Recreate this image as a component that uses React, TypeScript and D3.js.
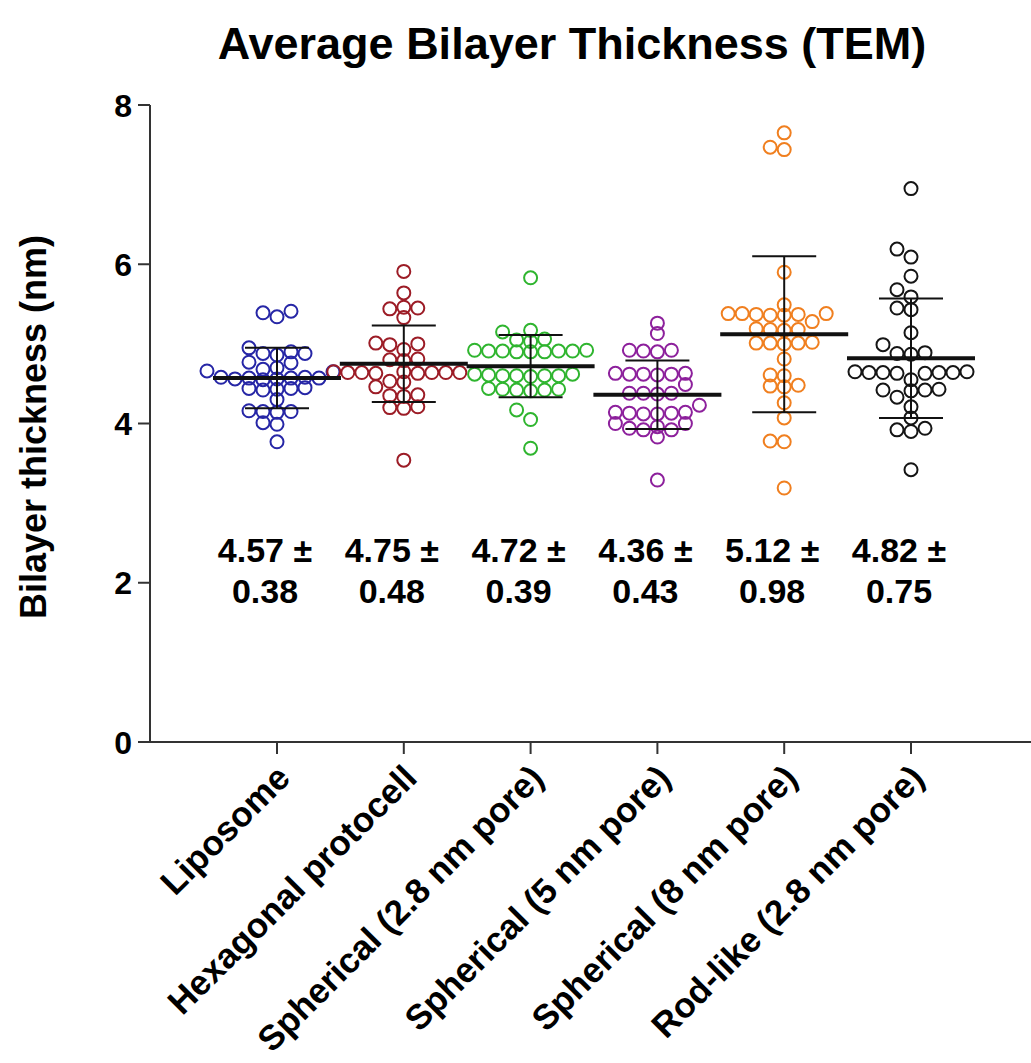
import React from "react";
import * as d3 from "d3";

const categories = [
  "Liposome",
  "Hexagonal protocell",
  "Spherical (2.8 nm pore)",
  "Spherical (5 nm pore)",
  "Spherical (8 nm pore)",
  "Rod-like (2.8 nm pore)",
];
const colors = ["#2626a6", "#9c1c26", "#2fb52f", "#8d209c", "#f07f1f", "#151515"];
const means = [4.57, 4.75, 4.72, 4.36, 5.12, 4.82];
const sds = [0.38, 0.48, 0.39, 0.43, 0.98, 0.75];
const yTicks = [0, 2, 4, 6, 8];

const liposome = [5.41, 5.39, 5.34, 4.95, 4.9, 4.88, 4.88, 4.86, 4.77, 4.76, 4.7, 4.68, 4.66, 4.65, 4.58, 4.58, 4.57, 4.57, 4.57, 4.56, 4.56, 4.55, 4.45, 4.44, 4.44, 4.43, 4.42, 4.3, 4.16, 4.15, 4.15, 4.14, 4.01, 3.99, 3.77];
const hexagonal = [5.91, 5.64, 5.46, 5.45, 5.44, 5.33, 5.01, 5.0, 4.99, 4.93, 4.81, 4.8, 4.79, 4.65, 4.64, 4.64, 4.64, 4.63, 4.64, 4.65, 4.63, 4.64, 4.53, 4.52, 4.46, 4.35, 4.36, 4.34, 4.2, 4.21, 4.19, 3.54];
const spherical28 = [5.83, 5.17, 5.15, 5.06, 5.05, 5.03, 4.92, 4.91, 4.91, 4.9, 4.9, 4.92, 4.91, 4.9, 4.91, 4.62, 4.6, 4.6, 4.61, 4.59, 4.6, 4.6, 4.62, 4.44, 4.42, 4.41, 4.43, 4.42, 4.43, 4.17, 4.05, 3.69];
const spherical5 = [5.26, 5.13, 4.92, 4.91, 4.9, 4.92, 4.63, 4.62, 4.62, 4.61, 4.62, 4.63, 4.49, 4.38, 4.38, 4.37, 4.38, 4.23, 4.14, 4.13, 4.12, 4.13, 4.12, 4.14, 4.0, 3.92, 3.92, 3.83, 3.96, 3.94, 4.0, 3.29];
const spherical8 = [7.65, 7.47, 7.44, 5.9, 5.49, 5.38, 5.38, 5.37, 5.36, 5.37, 5.36, 5.38, 5.28, 5.19, 5.18, 5.18, 5.17, 5.02, 5.01, 5.01, 5.0, 5.01, 4.81, 4.61, 4.6, 4.48, 4.47, 4.46, 4.26, 4.07, 3.78, 3.77, 3.19];
const rodlike = [6.95, 6.19, 6.09, 5.85, 5.68, 5.59, 5.45, 5.43, 5.14, 4.99, 4.89, 4.88, 4.87, 4.65, 4.64, 4.64, 4.63, 4.64, 4.65, 4.64, 4.63, 4.55, 4.43, 4.42, 4.42, 4.41, 4.33, 4.21, 4.07, 3.92, 3.9, 3.94, 3.42];

const groups = [liposome, hexagonal, spherical28, spherical5, spherical8, rodlike];

const font = "'Liberation Sans', Arial, sans-serif";

const y = d3.scaleLinear().domain([0, 8]).range([742, 105]);
const x = d3.scalePoint<string>().domain(categories).range([277, 911]);

// prism-like scatter: keep true y, push points sideways on a grid until free
function swarm(values: number[], cx: number) {
  const step = 14;
  const gap = 10;
  const placed: { x: number; y: number }[] = [];
  const sorted = [...values].sort((a, b) => a - b);
  for (const v of sorted) {
    const py = y(v);
    for (let k = 0; k < 40; k++) {
      const off = k === 0 ? 0 : (k % 2 === 1 ? -1 : 1) * Math.ceil(k / 2) * step;
      const px = cx + off;
      if (placed.every((p) => Math.hypot(p.x - px, p.y - py) >= gap)) {
        placed.push({ x: px, y: py });
        break;
      }
    }
  }
  return placed;
}

export default function App() {
  return (
    <svg
      width={1031}
      height={1063}
      style={{ position: "absolute", left: 0, top: 0, background: "#fff" }}
      fontFamily={font}
      fontWeight="bold"
    >
      <text x={572} y={59} fontSize={45} textAnchor="middle">
        Average Bilayer Thickness (TEM)
      </text>
      <text
        transform={`translate(46,427) rotate(-90)`}
        fontSize={36}
        textAnchor="middle"
      >
        Bilayer thickness (nm)
      </text>

      {/* y axis */}
      <line x1={150} x2={150} y1={y(8)} y2={y(0)} stroke="#333" strokeWidth={2} />
      {yTicks.map((t) => (
        <g key={t}>
          <line x1={138} x2={150} y1={y(t)} y2={y(t)} stroke="#333" strokeWidth={2} />
          <text x={132} y={y(t)} dy="0.36em" fontSize={32} textAnchor="end">
            {t}
          </text>
        </g>
      ))}

      {/* x axis */}
      <line x1={150} x2={1031} y1={y(0)} y2={y(0)} stroke="#333" strokeWidth={2} />
      {categories.map((c) => (
        <g key={c}>
          <line x1={x(c)!} x2={x(c)!} y1={y(0)} y2={y(0) + 12} stroke="#333" strokeWidth={2} />
          <text
            transform={`translate(${x(c)! + 15},${y(0) + 38}) rotate(-45)`}
            fontSize={35}
            textAnchor="end"
          >
            {c}
          </text>
        </g>
      ))}

      {/* points */}
      {groups.map((vals, i) =>
        swarm(vals, x(categories[i])!).map((p, j) => (
          <circle
            key={`${i}-${j}`}
            cx={p.x}
            cy={p.y}
            r={6.5}
            fill="none"
            stroke={colors[i]}
            strokeWidth={2}
          />
        ))
      )}

      {/* mean and SD */}
      {categories.map((c, i) => {
        const cx = x(c)!;
        const top = y(means[i] + sds[i]);
        const bot = y(means[i] - sds[i]);
        return (
          <g key={c} stroke="#111">
            <line x1={cx} x2={cx} y1={top} y2={bot} strokeWidth={2} />
            <line x1={cx - 32} x2={cx + 32} y1={top} y2={top} strokeWidth={2} />
            <line x1={cx - 32} x2={cx + 32} y1={bot} y2={bot} strokeWidth={2} />
            <line x1={cx - 64} x2={cx + 64} y1={y(means[i])} y2={y(means[i])} strokeWidth={4} />
          </g>
        );
      })}

      {/* stat labels */}
      {categories.map((c, i) => (
        <g key={c} fontSize={34} textAnchor="middle">
          <text x={x(c)! - 12} y={562}>
            {means[i].toFixed(2)} ±
          </text>
          <text x={x(c)! - 12} y={603}>
            {sds[i].toFixed(2)}
          </text>
        </g>
      ))}
    </svg>
  );
}
